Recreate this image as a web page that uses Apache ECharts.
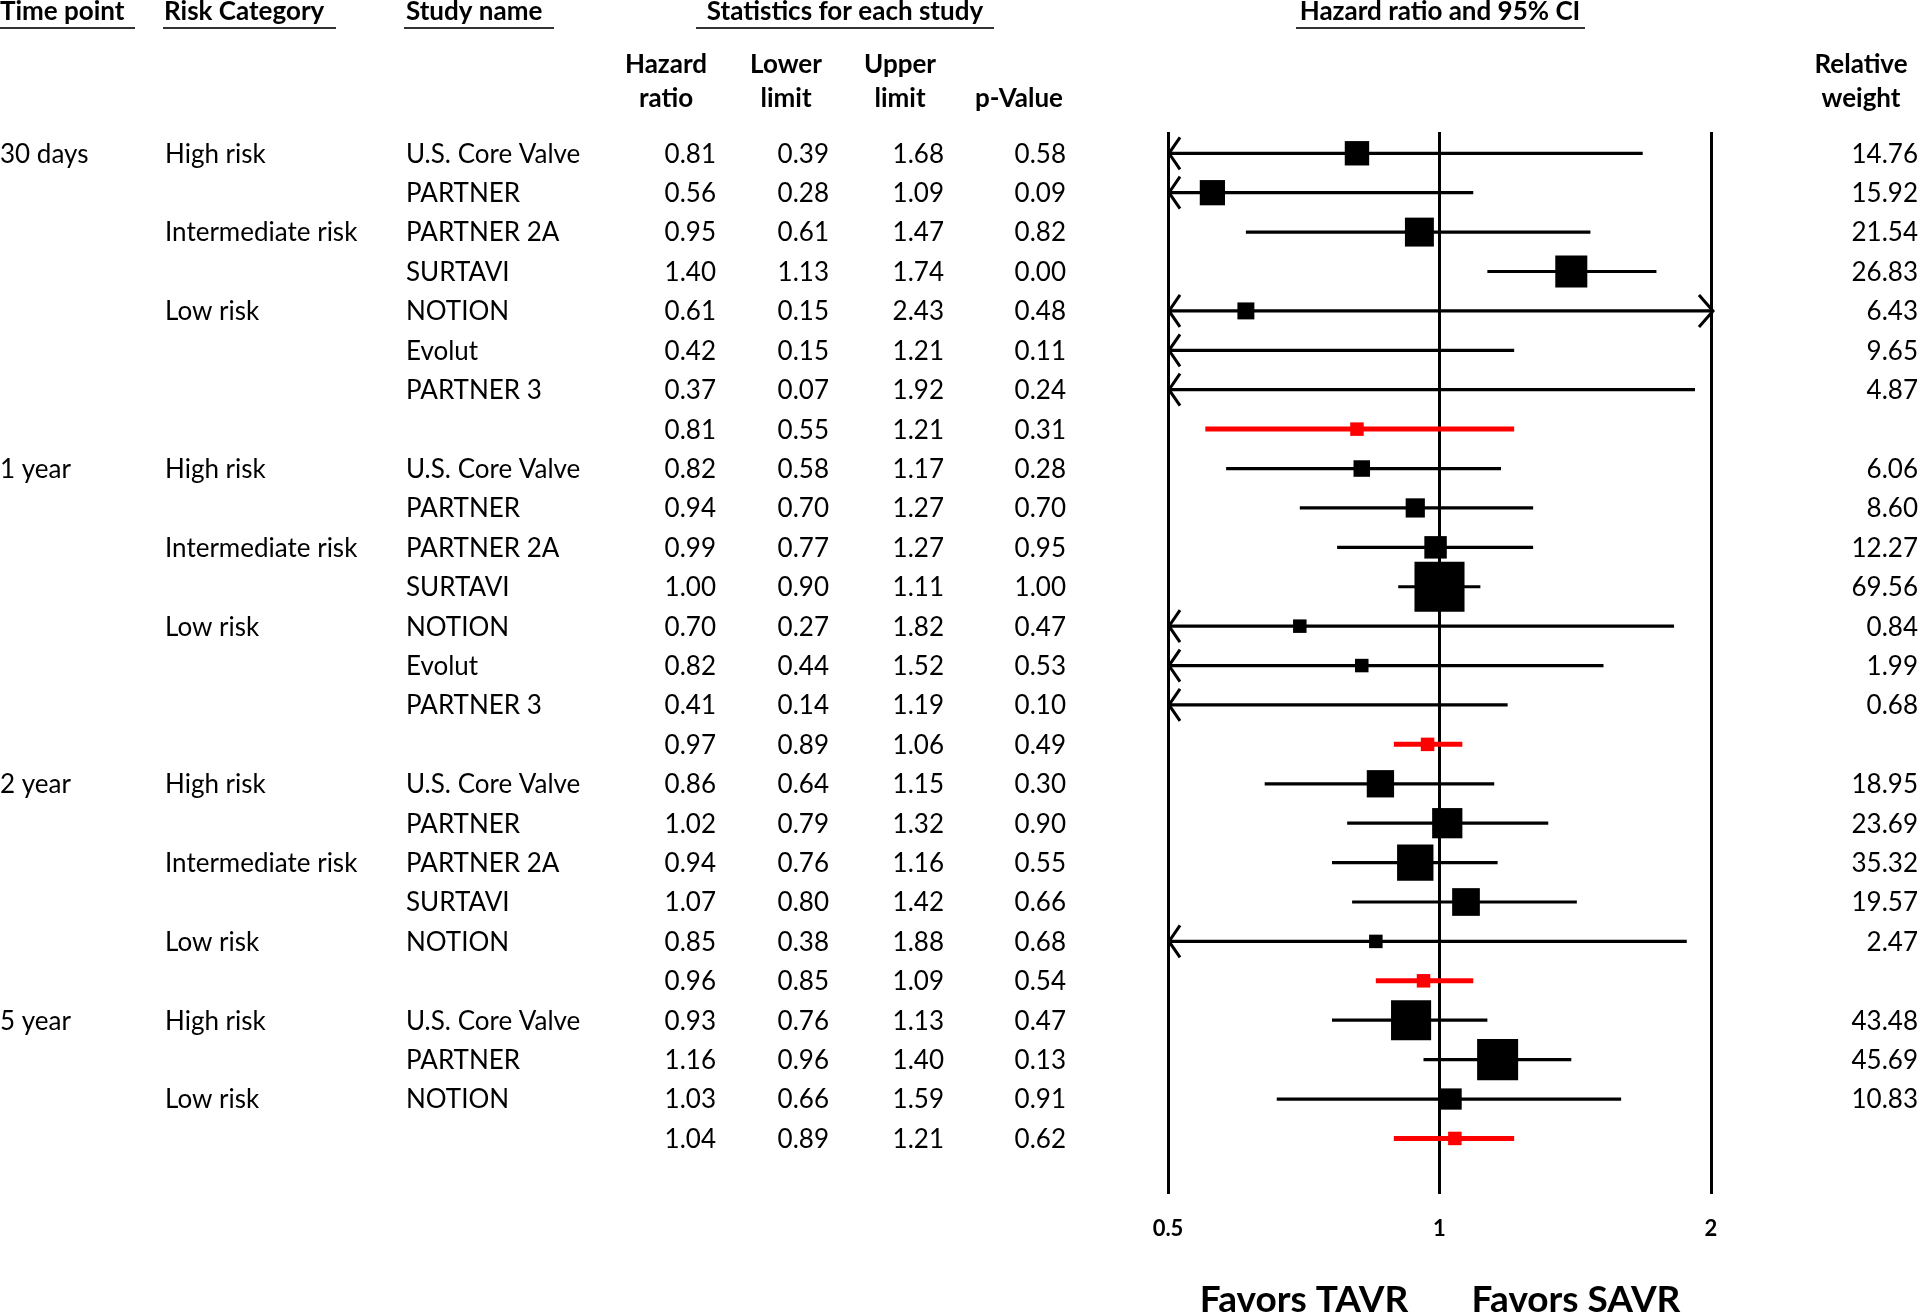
<!DOCTYPE html>
<html>
<head>
<meta charset="utf-8">
<script src="https://cdn.jsdelivr.net/npm/echarts@6/dist/echarts.min.js"></script>
<style>
html,body{margin:0;padding:0;background:#fff;}
#main{width:1920px;height:1312px;}
</style>
</head>
<body>
<div id="main"></div>
<script>
// ---------------- DATA ----------------
const timePoint = ['30 days','','','','','','','',
                   '1 year','','','','','','','',
                   '2 year','','','','','',
                   '5 year','','',''];
const riskCategory = ['High risk','','Intermediate risk','','Low risk','','','',
                      'High risk','','Intermediate risk','','Low risk','','','',
                      'High risk','','Intermediate risk','','Low risk','',
                      'High risk','','Low risk',''];
const studyName = ['U.S. Core Valve','PARTNER','PARTNER 2A','SURTAVI','NOTION','Evolut','PARTNER 3','',
                   'U.S. Core Valve','PARTNER','PARTNER 2A','SURTAVI','NOTION','Evolut','PARTNER 3','',
                   'U.S. Core Valve','PARTNER','PARTNER 2A','SURTAVI','NOTION','',
                   'U.S. Core Valve','PARTNER','NOTION',''];
const hazardRatio = [0.81,0.56,0.95,1.40,0.61,0.42,0.37,0.81,
                     0.82,0.94,0.99,1.00,0.70,0.82,0.41,0.97,
                     0.86,1.02,0.94,1.07,0.85,0.96,
                     0.93,1.16,1.03,1.04];
const lowerLimit = [0.39,0.28,0.61,1.13,0.15,0.15,0.07,0.55,
                    0.58,0.70,0.77,0.90,0.27,0.44,0.14,0.89,
                    0.64,0.79,0.76,0.80,0.38,0.85,
                    0.76,0.96,0.66,0.89];
const upperLimit = [1.68,1.09,1.47,1.74,2.43,1.21,1.92,1.21,
                    1.17,1.27,1.27,1.11,1.82,1.52,1.19,1.06,
                    1.15,1.32,1.16,1.42,1.88,1.09,
                    1.13,1.40,1.59,1.21];
const pValue = [0.58,0.09,0.82,0.00,0.48,0.11,0.24,0.31,
                0.28,0.70,0.95,1.00,0.47,0.53,0.10,0.49,
                0.30,0.90,0.55,0.66,0.68,0.54,
                0.47,0.13,0.91,0.62];
const relativeWeight = [14.76,15.92,21.54,26.83,6.43,9.65,4.87,null,
                        6.06,8.60,12.27,69.56,0.84,1.99,0.68,null,
                        18.95,23.69,35.32,19.57,2.47,null,
                        43.48,45.69,10.83,null];
const isSummary = relativeWeight.map(w => w === null);
const xTickValues = [0.5, 1, 2];
const xTickLabels = ['0.5', '1', '2'];

// ---------------- STYLE / LAYOUT ----------------
const FONT = 'Lato';
const TXT = '#000';
const X_MIN = 0.5, X_MAX = 2;
const TEXT_DY = 1;
const textCols = [
  {x: 0,    align: 'left',  get: i => timePoint[i]},
  {x: 165,  align: 'left',  get: i => riskCategory[i]},
  {x: 406,  align: 'left',  get: i => studyName[i]},
  {x: 716,  align: 'right', get: i => hazardRatio[i].toFixed(2)},
  {x: 829,  align: 'right', get: i => lowerLimit[i].toFixed(2)},
  {x: 944,  align: 'right', get: i => upperLimit[i].toFixed(2)},
  {x: 1066, align: 'right', get: i => pValue[i].toFixed(2)},
  {x: 1918, align: 'right', get: i => relativeWeight[i] === null ? '' : relativeWeight[i].toFixed(2)}
];
function boxSize(w) { return Math.max(13.5, 2.5 + 5.7 * Math.sqrt(w)); }

function hdr(text, x, y, align, size) {
  return {type: 'text', x: x, y: y, silent: true,
    style: {text: text, font: 'bold ' + (size || 26) + 'px ' + FONT, fill: TXT,
            textAlign: align, textVerticalAlign: 'middle'}};
}
function uline(x1, x2) {
  return {type: 'line', silent: true, shape: {x1: x1, y1: 28, x2: x2, y2: 28},
          style: {stroke: '#333', lineWidth: 2}};
}

const chart = echarts.init(document.getElementById('main'), null, {renderer: 'canvas'});

const option = {
  animation: false,
  backgroundColor: '#fff',
  grid: {left: 1168, right: 209, top: 132, bottom: 118, containLabel: false},
  xAxis: {
    type: 'log', logBase: 2, min: X_MIN, max: X_MAX, splitNumber: 2,
    axisLine: {show: false}, axisTick: {show: false},
    splitLine: {show: true, lineStyle: {color: '#000', width: 3}},
    axisLabel: {
      margin: 24, color: TXT, fontFamily: FONT, fontWeight: 'bold', fontSize: 22,
      formatter: v => { const k = xTickValues.findIndex(t => Math.abs(t - v) < 1e-6); return k >= 0 ? xTickLabels[k] : ''; }
    }
  },
  yAxis: {
    type: 'value', inverse: true, min: -0.54, max: 26.41, show: false
  },
  graphic: [
    hdr('Time point', 0, 12, 'left'),
    hdr('Risk Category', 164, 12, 'left'),
    hdr('Study name', 406, 12, 'left'),
    hdr('Statistics for each study', 845, 12, 'center'),
    hdr('Hazard ratio and 95% CI', 1440, 12, 'center'),
    uline(0, 135), uline(163, 336), uline(404, 554), uline(696, 994), uline(1296, 1585),
    hdr('Hazard', 666, 65, 'center'), hdr('ratio', 666, 99, 'center'),
    hdr('Lower', 786, 65, 'center'), hdr('limit', 786, 99, 'center'),
    hdr('Upper', 900, 65, 'center'), hdr('limit', 900, 99, 'center'),
    hdr('p-Value', 1019, 99, 'center'),
    hdr('Relative', 1861, 65, 'center'), hdr('weight', 1861, 99, 'center'),
    hdr('Favors TAVR', 1304, 1300, 'center', 37),
    hdr('Favors SAVR', 1576, 1300, 'center', 37)
  ],
  series: [
    {
      type: 'custom',
      name: 'table',
      clip: false,
      silent: true,
      data: hazardRatio.map((hr, i) => [1, i]),
      encode: {x: 0, y: 1},
      renderItem: function (params, api) {
        const i = params.dataIndex;
        const y = api.coord([1, i])[1] + TEXT_DY;
        const children = [];
        textCols.forEach(c => {
          const t = c.get(i);
          if (!t) return;
          children.push({type: 'text', x: c.x, y: y,
            style: {text: t, font: 'normal 26px ' + FONT, fill: TXT,
                    textAlign: c.align, textVerticalAlign: 'middle'}});
        });
        return {type: 'group', children: children};
      }
    },
    {
      type: 'custom',
      name: 'forest',
      clip: false,
      silent: true,
      data: hazardRatio.map((hr, i) => [hr, i, lowerLimit[i], upperLimit[i]]),
      encode: {x: [0, 2, 3], y: 1},
      renderItem: function (params, api) {
        const i = params.dataIndex;
        const hr = hazardRatio[i], lo = lowerLimit[i], hi = upperLimit[i];
        const summ = isSummary[i];
        const color = summ ? '#ff0000' : '#000';
        const y = api.coord([1, i])[1];
        const xL = api.coord([Math.max(lo, X_MIN), i])[0];
        const xH = api.coord([Math.min(hi, X_MAX), i])[0];
        const ch = [];
        ch.push({type: 'line', shape: {x1: xL, y1: y, x2: xH, y2: y},
                 style: {stroke: color, lineWidth: summ ? 5 : 3.2}});
        if (lo < X_MIN) {
          ch.push({type: 'polyline', shape: {points: [[xL + 12, y - 16], [xL + 1, y], [xL + 12, y + 16]]},
                   style: {stroke: color, lineWidth: 3, fill: 'none'}});
        }
        if (hi > X_MAX) {
          ch.push({type: 'polyline', shape: {points: [[xH - 12, y - 16], [xH + 2, y], [xH - 12, y + 16]]},
                   style: {stroke: color, lineWidth: 3, fill: 'none'}});
        }
        if (hr >= X_MIN && hr <= X_MAX) {
          const xc = api.coord([hr, i])[0];
          const s = summ ? 13.5 : boxSize(relativeWeight[i]);
          ch.push({type: 'rect', shape: {x: xc - s / 2, y: y - s / 2, width: s, height: s},
                   style: {fill: color}});
        }
        return {type: 'group', children: ch};
      }
    }
  ]
};
chart.setOption(option);
</script>
</body>
</html>
